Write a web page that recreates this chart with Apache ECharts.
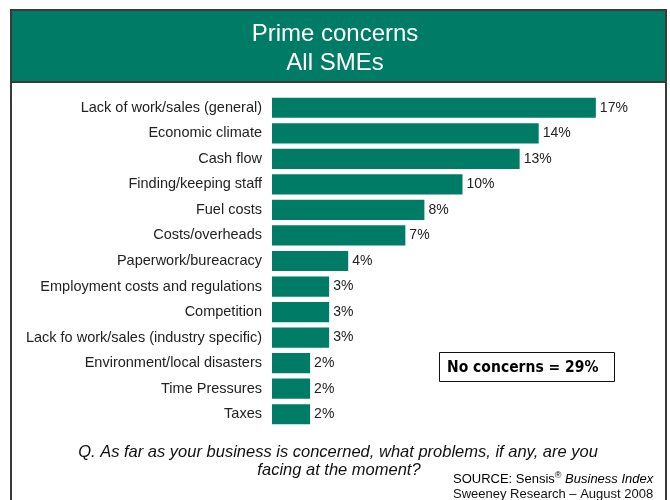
<!DOCTYPE html>
<html>
<head>
<meta charset="utf-8">
<script src="https://cdn.jsdelivr.net/npm/echarts@6/dist/echarts.min.js"></script>
<style>
  html, body { margin: 0; padding: 0; background: #fff; }
  #chart { width: 670px; height: 500px; }
</style>
</head>
<body>
<div id="chart"></div>
<script>
// Survey results: share of SMEs naming each issue as their prime concern
const categories = [
  'Lack of work/sales (general)',
  'Economic climate',
  'Cash flow',
  'Finding/keeping staff',
  'Fuel costs',
  'Costs/overheads',
  'Paperwork/bureacracy',
  'Employment costs and regulations',
  'Competition',
  'Lack fo work/sales (industry specific)',
  'Environment/local disasters',
  'Time Pressures',
  'Taxes'
];
const percentages = [17, 14, 13, 10, 8, 7, 4, 3, 3, 3, 2, 2, 2];
const noConcerns = 29;

const titleLines = ['Prime concerns', 'All SMEs'];
const questionLines = [
  'Q. As far as your business is concerned, what problems, if any, are you',
  'facing at the moment?'
];

const GREEN = '#007C66';
const FRAME = '#3a3a3a';
const SANS = '"Liberation Sans", Arial, sans-serif';

const chart = echarts.init(document.getElementById('chart'), null, { renderer: 'canvas' });

chart.setOption({
  backgroundColor: '#ffffff',
  animation: false,
  title: {
    text: titleLines.join('\n'),
    left: 'center',
    top: 15,
    textStyle: {
      color: '#ffffff',
      fontFamily: SANS,
      fontWeight: 'normal',
      fontSize: 24,
      lineHeight: 29
    }
  },
  grid: { left: 272, top: 95, right: 17, bottom: 73, containLabel: false },
  xAxis: {
    type: 'value',
    min: 0,
    max: 20,
    show: false
  },
  yAxis: {
    type: 'category',
    data: categories,
    inverse: true,
    axisLine: { show: false },
    axisTick: { show: false },
    axisLabel: {
      margin: 10,
      color: '#222',
      fontFamily: SANS,
      fontSize: 14.5
    }
  },
  series: [{
    type: 'bar',
    data: percentages,
    barCategoryGap: '21%',
    itemStyle: { color: GREEN },
    label: {
      show: true,
      position: 'right',
      distance: 4,
      formatter: '{c}%',
      color: '#222',
      fontFamily: SANS,
      fontSize: 14
    }
  }],
  graphic: [
    // header band
    {
      type: 'rect',
      z: -1,
      shape: { x: 11, y: 10, width: 655, height: 72 },
      style: { fill: GREEN, stroke: FRAME, lineWidth: 2 }
    },
    // frame sides running down the page
    {
      type: 'line',
      shape: { x1: 11, y1: 10, x2: 11, y2: 500 },
      style: { stroke: FRAME, lineWidth: 2 }
    },
    {
      type: 'line',
      shape: { x1: 666, y1: 10, x2: 666, y2: 500 },
      style: { stroke: FRAME, lineWidth: 2 }
    },
    // "no concerns" call-out
    {
      type: 'rect',
      shape: { x: 439.5, y: 352.5, width: 175, height: 29 },
      style: { fill: '#fff', stroke: '#111', lineWidth: 1 }
    },
    {
      type: 'text',
      x: 447,
      y: 368,
      style: {
        text: 'No concerns = ' + noConcerns + '%',
        fill: '#000',
        font: 'bold 15.5px "DejaVu Sans Condensed", "DejaVu Sans", sans-serif',
        verticalAlign: 'middle',
        align: 'left'
      }
    },
    // survey question
    {
      type: 'text',
      x: 338,
      y: 452,
      style: {
        text: questionLines[0],
        fill: '#111',
        font: 'italic 16.5px "Liberation Sans", Arial, sans-serif',
        align: 'center',
        verticalAlign: 'middle'
      }
    },
    {
      type: 'text',
      x: 339,
      y: 470,
      style: {
        text: questionLines[1],
        fill: '#111',
        font: 'italic 16.5px "Liberation Sans", Arial, sans-serif',
        align: 'center',
        verticalAlign: 'middle'
      }
    },
    // source note
    {
      type: 'text',
      x: 453,
      y: 479,
      style: {
        text: '{n|SOURCE: Sensis}{s|®}{i| Business Index}',
        verticalAlign: 'middle',
        align: 'left',
        rich: {
          n: { fontFamily: SANS, fontSize: 13, color: '#111' },
          s: { fontFamily: SANS, fontSize: 9, color: '#111', padding: [0, 0, 7, 0] },
          i: { fontFamily: SANS, fontSize: 13, fontStyle: 'italic', color: '#111' }
        }
      }
    },
    {
      type: 'text',
      x: 453,
      y: 494,
      style: {
        text: 'Sweeney Research – August 2008',
        fill: '#111',
        font: '13px "Liberation Sans", Arial, sans-serif',
        verticalAlign: 'middle',
        align: 'left'
      }
    }
  ]
});
</script>
</body>
</html>
